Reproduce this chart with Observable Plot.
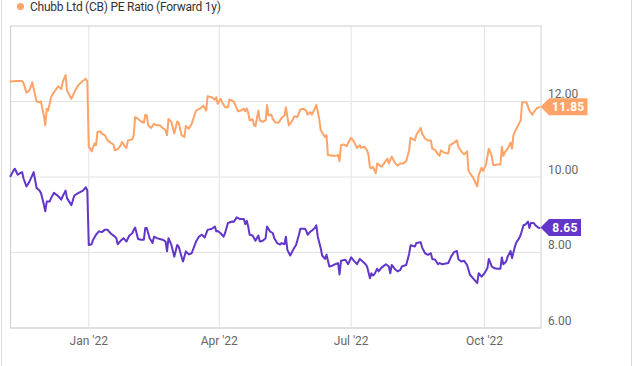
<!DOCTYPE html>
<html><head><meta charset="utf-8">
<script src="https://cdn.jsdelivr.net/npm/d3@7"></script>
<script src="https://cdn.jsdelivr.net/npm/@observablehq/plot@0.6"></script>
<style>
body{margin:0;background:#fff;font-family:Roboto,"Noto Sans",sans-serif;}
#wrap{position:relative;width:635px;height:366px;overflow:hidden;background:#fff;}
#box{position:absolute;left:1px;top:0;width:631px;height:366px;box-sizing:border-box;border-left:1px solid #d9d9d9;border-right:1px solid #d9d9d9;pointer-events:none;}
#legend{position:absolute;left:17px;top:0;font-size:12px;letter-spacing:-0.25px;color:#333;line-height:14px;white-space:nowrap;}
#legend .dot{display:inline-block;width:7px;height:7px;border-radius:50%;margin-right:6px;vertical-align:1px;}
</style>
</head><body>
<div id="wrap"><div id="chart"></div><div id="box"></div><div id="legend"></div></div>
<script>
const legendLabel = "Chubb Ltd (CB) PE Ratio (Forward 1y)";
const orangeColor = "#ffa368";
const purpleColor = "#6236c9";
const xTicks = ["2022-01-01","2022-04-01","2022-07-01","2022-10-01"];
const yTicks = [6, 8, 10, 12];

const orangeDates = ["2021-11-08","2021-11-12","2021-11-16","2021-11-17","2021-11-19","2021-11-21","2021-11-23","2021-11-26","2021-11-28","2021-11-29","2021-12-01","2021-12-02","2021-12-03","2021-12-04","2021-12-06","2021-12-08","2021-12-11","2021-12-13","2021-12-14","2021-12-16","2021-12-17","2021-12-20","2021-12-23","2021-12-25","2021-12-28","2021-12-30","2021-12-31","2022-01-01","2022-01-02","2022-01-03","2022-01-05","2022-01-06","2022-01-07","2022-01-09","2022-01-10","2022-01-12","2022-01-14","2022-01-16","2022-01-18","2022-01-19","2022-01-21","2022-01-23","2022-01-24","2022-01-26","2022-01-27","2022-01-28","2022-01-31","2022-02-01","2022-02-02","2022-02-04","2022-02-06","2022-02-08","2022-02-09","2022-02-10","2022-02-11","2022-02-13","2022-02-15","2022-02-17","2022-02-19","2022-02-21","2022-02-23","2022-02-24","2022-02-25","2022-02-27","2022-03-01","2022-03-03","2022-03-04","2022-03-06","2022-03-08","2022-03-09","2022-03-11","2022-03-13","2022-03-16","2022-03-19","2022-03-21","2022-03-23","2022-03-24","2022-03-27","2022-03-29","2022-03-30","2022-03-31","2022-04-02","2022-04-03","2022-04-05","2022-04-07","2022-04-08","2022-04-11","2022-04-12","2022-04-14","2022-04-16","2022-04-18","2022-04-19","2022-04-20","2022-04-21","2022-04-22","2022-04-24","2022-04-25","2022-04-26","2022-04-28","2022-04-29","2022-05-01","2022-05-03","2022-05-04","2022-05-05","2022-05-07","2022-05-08","2022-05-10","2022-05-12","2022-05-14","2022-05-16","2022-05-17","2022-05-19","2022-05-21","2022-05-23","2022-05-25","2022-05-27","2022-05-29","2022-05-31","2022-06-01","2022-06-03","2022-06-04","2022-06-06","2022-06-07","2022-06-09","2022-06-10","2022-06-13","2022-06-14","2022-06-15","2022-06-18","2022-06-20","2022-06-22","2022-06-23","2022-06-24","2022-06-26","2022-06-28","2022-06-29","2022-07-01","2022-07-03","2022-07-05","2022-07-07","2022-07-08","2022-07-10","2022-07-12","2022-07-13","2022-07-14","2022-07-15","2022-07-16","2022-07-18","2022-07-19","2022-07-22","2022-07-23","2022-07-26","2022-07-27","2022-07-29","2022-07-31","2022-08-02","2022-08-04","2022-08-06","2022-08-08","2022-08-10","2022-08-11","2022-08-14","2022-08-15","2022-08-18","2022-08-19","2022-08-21","2022-08-23","2022-08-25","2022-08-26","2022-08-28","2022-08-30","2022-08-31","2022-09-01","2022-09-03","2022-09-06","2022-09-07","2022-09-10","2022-09-12","2022-09-13","2022-09-14","2022-09-15","2022-09-17","2022-09-19","2022-09-20","2022-09-22","2022-09-24","2022-09-26","2022-09-27","2022-09-29","2022-09-30","2022-10-02","2022-10-04","2022-10-06","2022-10-07","2022-10-08","2022-10-10","2022-10-12","2022-10-13","2022-10-14","2022-10-15","2022-10-17","2022-10-19","2022-10-20","2022-10-21","2022-10-23","2022-10-24","2022-10-26","2022-10-27","2022-10-29","2022-10-30","2022-11-01","2022-11-03","2022-11-04","2022-11-06","2022-11-08"];
const orangeValues = [12.53,12.54,12.54,12.49,12.23,12.29,12.51,12.00,11.98,12.00,11.63,11.37,11.81,11.76,12.11,12.25,12.40,12.33,12.51,12.70,12.29,12.07,12.32,12.44,12.55,12.60,12.53,10.80,10.75,10.68,10.89,10.84,11.19,11.21,11.15,11.11,10.97,10.91,10.86,10.71,10.74,10.84,10.93,10.80,10.77,10.97,11.00,11.11,11.59,11.54,11.47,11.44,11.65,11.63,11.37,11.30,11.41,11.37,11.37,11.30,11.24,11.11,11.54,11.46,11.15,11.47,11.44,11.11,11.06,11.35,11.28,11.41,11.76,11.82,11.89,11.76,12.14,12.11,12.05,12.11,11.94,12.07,11.98,11.85,11.85,12.05,12.00,11.91,11.74,11.76,11.81,11.74,11.82,11.70,11.50,11.53,11.37,11.35,11.76,11.50,11.46,11.50,11.91,11.63,11.65,11.53,11.44,11.44,11.56,11.63,11.85,11.37,11.47,11.61,11.59,11.79,11.81,11.76,11.65,11.72,11.65,11.82,11.91,11.54,11.24,11.06,11.11,10.58,10.56,10.56,10.58,10.42,10.84,10.86,10.82,10.91,11.04,10.93,10.77,10.84,10.77,10.80,10.71,10.58,10.25,10.23,10.27,10.10,10.36,10.27,10.32,10.49,10.36,10.54,10.39,10.30,10.36,10.36,10.42,10.71,11.04,10.97,11.11,11.30,11.15,11.02,10.97,10.97,10.75,10.71,10.60,10.56,10.71,10.65,10.62,10.84,10.91,10.97,10.80,10.74,10.68,10.60,10.68,10.16,10.05,9.92,9.75,10.05,10.25,10.16,10.33,10.75,10.56,10.32,10.32,10.33,10.33,10.80,10.56,10.65,10.75,10.91,10.75,11.11,11.28,11.35,11.50,11.98,11.98,11.98,11.76,11.65,11.72,11.82,11.85];

const purpleDates = ["2021-11-08","2021-11-10","2021-11-11","2021-11-13","2021-11-15","2021-11-16","2021-11-17","2021-11-19","2021-11-21","2021-11-24","2021-11-26","2021-11-28","2021-11-29","2021-12-01","2021-12-02","2021-12-03","2021-12-05","2021-12-06","2021-12-08","2021-12-11","2021-12-13","2021-12-14","2021-12-16","2021-12-17","2021-12-20","2021-12-22","2021-12-25","2021-12-28","2021-12-30","2021-12-31","2022-01-01","2022-01-03","2022-01-04","2022-01-06","2022-01-08","2022-01-10","2022-01-12","2022-01-14","2022-01-16","2022-01-19","2022-01-20","2022-01-21","2022-01-23","2022-01-25","2022-01-27","2022-01-29","2022-01-31","2022-02-01","2022-02-02","2022-02-04","2022-02-06","2022-02-08","2022-02-09","2022-02-10","2022-02-12","2022-02-14","2022-02-15","2022-02-17","2022-02-19","2022-02-21","2022-02-23","2022-02-24","2022-02-25","2022-02-27","2022-03-01","2022-03-03","2022-03-04","2022-03-06","2022-03-07","2022-03-09","2022-03-11","2022-03-13","2022-03-16","2022-03-18","2022-03-20","2022-03-22","2022-03-24","2022-03-27","2022-03-29","2022-03-30","2022-03-31","2022-04-02","2022-04-04","2022-04-05","2022-04-07","2022-04-10","2022-04-11","2022-04-13","2022-04-15","2022-04-18","2022-04-19","2022-04-20","2022-04-21","2022-04-22","2022-04-24","2022-04-26","2022-04-28","2022-04-29","2022-05-01","2022-05-03","2022-05-04","2022-05-06","2022-05-08","2022-05-09","2022-05-11","2022-05-13","2022-05-14","2022-05-16","2022-05-17","2022-05-18","2022-05-20","2022-05-22","2022-05-24","2022-05-26","2022-05-27","2022-05-30","2022-05-31","2022-06-01","2022-06-03","2022-06-04","2022-06-06","2022-06-07","2022-06-08","2022-06-10","2022-06-11","2022-06-13","2022-06-14","2022-06-16","2022-06-18","2022-06-20","2022-06-22","2022-06-23","2022-06-24","2022-06-27","2022-06-29","2022-07-01","2022-07-03","2022-07-05","2022-07-07","2022-07-09","2022-07-11","2022-07-12","2022-07-14","2022-07-15","2022-07-16","2022-07-17","2022-07-19","2022-07-20","2022-07-22","2022-07-25","2022-07-27","2022-07-28","2022-07-29","2022-07-31","2022-08-02","2022-08-04","2022-08-05","2022-08-08","2022-08-10","2022-08-11","2022-08-14","2022-08-15","2022-08-18","2022-08-19","2022-08-21","2022-08-23","2022-08-25","2022-08-26","2022-08-28","2022-08-30","2022-08-31","2022-09-02","2022-09-06","2022-09-08","2022-09-10","2022-09-12","2022-09-13","2022-09-15","2022-09-17","2022-09-19","2022-09-21","2022-09-23","2022-09-26","2022-09-27","2022-09-29","2022-10-01","2022-10-03","2022-10-04","2022-10-06","2022-10-08","2022-10-10","2022-10-12","2022-10-13","2022-10-14","2022-10-16","2022-10-17","2022-10-19","2022-10-20","2022-10-22","2022-10-23","2022-10-25","2022-10-26","2022-10-28","2022-10-29","2022-10-31","2022-11-01","2022-11-02","2022-11-04","2022-11-05","2022-11-07","2022-11-08"];
const purpleValues = [10.02,10.17,10.22,10.06,10.11,10.13,9.96,9.75,9.87,10.13,9.71,9.64,9.58,9.27,9.09,9.35,9.35,9.44,9.58,9.49,9.40,9.49,9.64,9.44,9.25,9.51,9.58,9.64,9.73,9.64,8.20,8.22,8.34,8.47,8.56,8.54,8.60,8.60,8.51,8.42,8.38,8.22,8.31,8.38,8.29,8.45,8.51,8.60,8.66,8.36,8.34,8.34,8.65,8.65,8.38,8.25,8.42,8.38,8.36,8.34,8.29,8.03,8.38,8.20,7.89,8.20,8.16,7.89,7.76,8.03,7.95,7.98,8.29,8.42,8.47,8.40,8.60,8.63,8.69,8.56,8.57,8.51,8.42,8.51,8.78,8.82,8.81,8.93,8.89,8.89,8.75,8.84,8.69,8.47,8.45,8.31,8.45,8.29,8.31,8.38,8.69,8.56,8.51,8.38,8.25,8.21,8.25,8.22,8.42,8.07,7.92,8.07,8.20,8.47,8.63,8.63,8.58,8.47,8.56,8.58,8.65,8.72,8.42,8.12,7.92,7.83,7.94,7.63,7.65,7.69,7.72,7.42,7.78,7.81,7.69,7.87,7.78,7.69,7.83,7.76,7.69,7.63,7.32,7.45,7.39,7.42,7.57,7.50,7.60,7.69,7.63,7.45,7.67,7.57,7.50,7.54,7.63,7.67,7.96,8.19,8.16,8.25,8.27,8.13,7.98,7.94,7.98,7.83,7.81,7.69,7.72,7.69,7.72,7.89,8.01,8.04,7.82,7.76,7.78,7.67,7.41,7.32,7.19,7.45,7.36,7.45,7.58,7.83,7.63,7.58,7.57,7.57,7.87,7.69,7.76,7.89,8.04,7.85,8.16,8.27,8.38,8.47,8.73,8.73,8.82,8.65,8.78,8.78,8.73,8.66,8.65];

const parse = d3.utcParse("%Y-%m-%d");
const orange = orangeDates.map((d, i) => ({date: parse(d), value: orangeValues[i]}));
const purple = purpleDates.map((d, i) => ({date: parse(d), value: purpleValues[i]}));

function tag(value, color) {
  return (index, scales, values, dimensions) => {
    const label = value.toFixed(2);
    const x0 = dimensions.width - dimensions.marginRight;
    const y = scales.y(value);
    const h = 8.5, a = 8.5, w = label.length * 6.5 + 6;
    const g = d3.create("svg:g");
    g.append("path")
      .attr("d", `M${x0},${y}L${x0 + a},${y - h}H${x0 + a + w}V${y + h}H${x0 + a}Z`)
      .attr("fill", color);
    g.append("text")
      .attr("x", x0 + a + w / 2).attr("y", y).attr("dy", "0.36em")
      .attr("text-anchor", "middle").attr("fill", "#fff")
      .attr("font-weight", "bold").attr("font-size", 12)
      .attr("letter-spacing", "0.3px")
      .text(label);
    return g.node();
  };
}

const chart = Plot.plot({
  width: 635,
  height: 366,
  marginLeft: 10,
  marginRight: 94.5,
  marginTop: 25.5,
  marginBottom: 38.5,
  style: {fontFamily: "Roboto, sans-serif", fontSize: "12px", background: "transparent", overflow: "visible"},
  x: {type: "utc", domain: [parse("2021-11-08"), parse("2022-11-09")]},
  y: {domain: [6, 14]},
  marks: [
    Plot.gridX(xTicks.map(parse), {stroke: "#e3e3e3", strokeOpacity: 1}),
    Plot.gridY(yTicks, {stroke: "#e3e3e3", strokeOpacity: 1}),
    Plot.frame({stroke: "#cfcfcf"}),
    Plot.axisX(xTicks.map(parse), {tickSize: 0, tickPadding: 8, tickFormat: d3.utcFormat("%b '%y"), fill: "#666", label: null}),
    Plot.axisY(yTicks, {anchor: "right", tickSize: 0, tickPadding: 7, dy: -7, tickFormat: d => d.toFixed(2), fill: "#666", label: null}),
    Plot.line(purple, {x: "date", y: "value", stroke: purpleColor, strokeWidth: 2}),
    Plot.line(orange, {x: "date", y: "value", stroke: orangeColor, strokeWidth: 2}),
    tag(orangeValues[orangeValues.length - 1], orangeColor),
    tag(purpleValues[purpleValues.length - 1], purpleColor)
  ]
});
document.getElementById("chart").append(chart);

const legend = document.getElementById("legend");
const dot = document.createElement("span");
dot.className = "dot";
dot.style.background = orangeColor;
legend.append(dot, legendLabel);
</script>
</body></html>
